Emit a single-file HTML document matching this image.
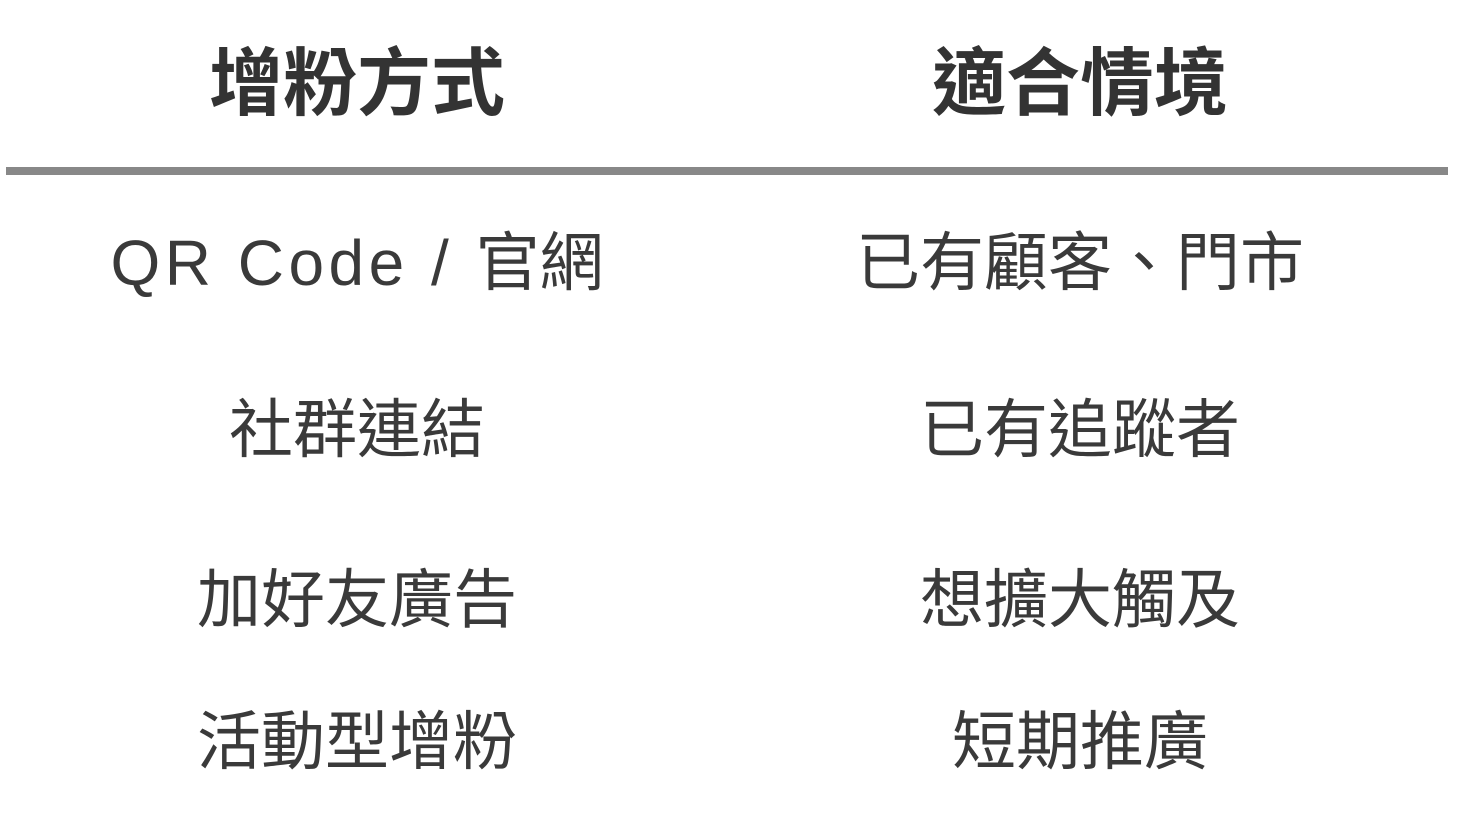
<!DOCTYPE html>
<html><head><meta charset="utf-8"><style>
html,body{margin:0;padding:0;background:#fff;width:1466px;height:834px;overflow:hidden;}
.t{position:absolute;font-family:"Liberation Sans","Noto Sans CJK TC",sans-serif;color:#3a3a3a;font-size:64px;line-height:1;white-space:nowrap;transform:translate(-50%,-50%);}
.h{font-weight:bold;font-size:74px;color:#333;}
.line{position:absolute;left:6px;top:167px;width:1442px;height:8px;background:#888;}
.l{letter-spacing:4.5px;}
</style></head><body>
<div class="t h" style="left:357px;top:84px">增粉方式</div>
<div class="t h" style="left:1080px;top:84px">適合情境</div>
<div class="line"></div>
<div class="t" style="left:357px;top:263px"><span class="l">QR Code / </span>官網</div>
<div class="t" style="left:1080px;top:263px">已有顧客、門市</div>
<div class="t" style="left:357px;top:430px">社群連結</div>
<div class="t" style="left:1080px;top:430px">已有追蹤者</div>
<div class="t" style="left:357px;top:600px">加好友廣告</div>
<div class="t" style="left:1080px;top:600px">想擴大觸及</div>
<div class="t" style="left:357px;top:742px">活動型增粉</div>
<div class="t" style="left:1080px;top:742px">短期推廣</div>
</body></html>
